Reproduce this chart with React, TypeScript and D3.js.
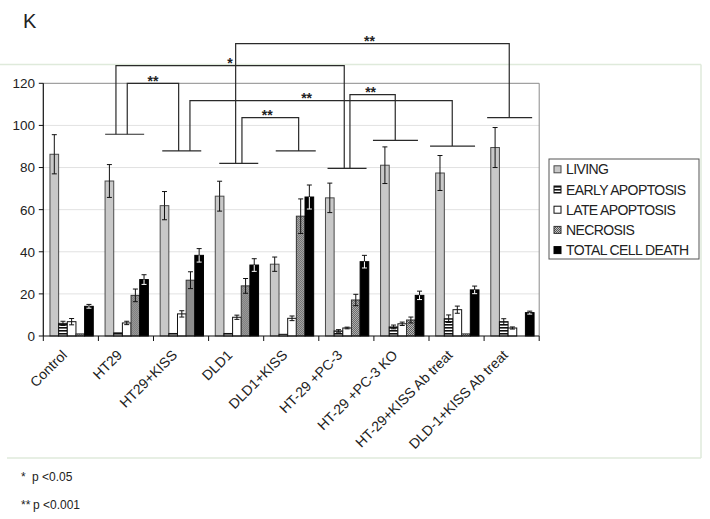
import React from 'react';
import * as d3 from 'd3';

const categories = ['Control', 'HT29', 'HT29+KISS', 'DLD1', 'DLD1+KISS', 'HT-29 +PC-3', 'HT-29 +PC-3 KO', 'HT-29+KISS Ab treat', 'DLD-1+KISS Ab treat'];
const seriesNames = ['LIVING', 'EARLY APOPTOSIS', 'LATE APOPTOSIS', 'NECROSIS', 'TOTAL CELL DEATH'];
const living = [86.3, 73.6, 61.9, 66.4, 34.1, 65.6, 81.1, 77.4, 89.5];
const livingErr = [9.3, 7.8, 6.7, 7.1, 3.4, 7.0, 8.7, 8.3, 9.5];
const early = [6.0, 1.5, 1.2, 1.2, 0.8, 2.4, 4.3, 8.2, 6.8];
const earlyErr = [1.0, 0, 0, 0, 0, 0.6, 0.9, 1.8, 1.4];
const late = [6.8, 6.2, 10.5, 8.9, 8.4, 3.8, 5.8, 12.5, 3.8];
const lateErr = [1.5, 0.8, 1.5, 1.0, 1.1, 0.4, 0.8, 1.7, 0.5];
const necrosis = [1.0, 19.3, 26.5, 23.8, 56.9, 17.1, 7.6, 1.0, 0];
const necrosisErr = [0, 3.0, 4.0, 3.5, 8.2, 2.7, 1.4, 0, 0];
const total = [14.1, 26.8, 38.3, 33.7, 66.0, 35.3, 19.3, 21.9, 11.1];
const totalErr = [0.9, 2.3, 3.2, 3.0, 5.7, 3.0, 2.0, 1.8, 0.7];
const yTicks = [0, 20, 40, 60, 80, 100, 120];

// significance annotations (levels in data units)
const feet = [
  { group: 'HT29', level: 95.8, dx: -1.3, w: 39 },
  { group: 'HT29+KISS', level: 87.9, dx: 0.7, w: 39 },
  { group: 'DLD1', level: 82.0, dx: 2.6, w: 39 },
  { group: 'DLD1+KISS', level: 87.9, dx: 4.5, w: 40 },
  { group: 'HT-29 +PC-3', level: 79.6, dx: 0.7, w: 39 },
  { group: 'HT-29 +PC-3 KO', level: 92.9, dx: -6, w: 45 },
  { group: 'HT-29+KISS Ab treat', level: 90.2, dx: -4, w: 45 },
  { group: 'DLD-1+KISS Ab treat', level: 103.7, dx: -2, w: 45 },
];
const brackets = [
  { a: 'HT29', adx: -10, b: 'HT-29 +PC-3', bdx: -2.1, top: 128.4, label: '*', ldx: 0 },
  { a: 'HT29', adx: 1.3, b: 'HT29+KISS', bdx: -2.4, top: 120, label: '**', ldx: 0 },
  { a: 'HT29+KISS', adx: 8.9, b: 'HT-29+KISS Ab treat', bdx: -4.3, top: 111.8, label: '**', ldx: -14.5 },
  { a: 'DLD1', adx: 5.8, b: 'DLD1+KISS', bdx: 7.4, top: 103.7, label: '**', ldx: -3 },
  { a: 'DLD1', adx: -0.5, b: 'DLD-1+KISS Ab treat', bdx: -2.4, top: 138.8, label: '**', ldx: -3 },
  { a: 'HT-29 +PC-3', adx: 3.6, b: 'HT-29 +PC-3 KO', bdx: -6.2, top: 114.6, label: '**', ldx: -2 },
];

const values = [living, early, late, necrosis, total];
const errors = [livingErr, earlyErr, lateErr, necrosisErr, totalErr];
const fills = ['#c8c8c8', 'url(#stripes)', '#ffffff', 'url(#checker)', '#000000'];
const strokes = ['#4a4a4a', '#111', '#111', '#333', '#000'];

export default function App() {
  const W = 710, H = 519;
  const left = 43.3, right = 539.2, top = 83.3, bottom = 336;
  const x = d3.scaleBand<string>().domain(categories).range([left, right]).padding(0);
  const bw = x.bandwidth();
  const xi = d3.scaleBand<string>().domain(seriesNames).range([bw * 0.121, bw * 0.907]).padding(0);
  const y = d3.scaleLinear().domain([0, 120]).range([bottom, top]);
  const center = (g: string) => (x(g) as number) + bw / 2;
  const font = 'Liberation Sans, Arial, sans-serif';
  const br = '#2a2a2a';

  return (
    <svg width={W} height={H} style={{ position: 'absolute', left: 0, top: 0, background: '#fff' }} fontFamily={font}>
      <defs>
        <pattern id="stripes" width="4" height="3" patternUnits="userSpaceOnUse">
          <rect width="4" height="3" fill="#fff" />
          <rect width="4" height="1.6" fill="#111" />
        </pattern>
        <pattern id="checker" width="2" height="2" patternUnits="userSpaceOnUse">
          <rect width="2" height="2" fill="#c4c4c4" />
          <rect width="1" height="1" fill="#555" />
          <rect x="1" y="1" width="1" height="1" fill="#555" />
        </pattern>
      </defs>
      <rect width={W} height={H} fill="#fff" />
      {/* outer frame */}
      <line x1={0} x2={701} y1={64.5} y2={64.5} stroke="#dfeadb" strokeWidth={1.5} />
      <line x1={701} x2={701} y1={64.5} y2={458} stroke="#dfeadb" strokeWidth={1.5} />
      <line x1={7} x2={701} y1={458} y2={458} stroke="#dfeadb" strokeWidth={1.5} />

      <text x={23} y={28} fontSize={20} fill="#222">K</text>

      {/* grid */}
      {yTicks.filter(t => t > 0 && t < 120).map(t => (
        <line key={t} x1={left} x2={right} y1={y(t)} y2={y(t)} stroke="#e2e2e2" strokeWidth={1} />
      ))}
      <line x1={left} x2={right} y1={y(120)} y2={y(120)} stroke="#8a8a8a" strokeWidth={1} />
      <line x1={right} x2={right} y1={y(120)} y2={y(0)} stroke="#8a8a8a" strokeWidth={1} />

      {/* bars */}
      {categories.map((c, ci) => (
        <g key={c} transform={`translate(${x(c)},0)`}>
          {seriesNames.map((s, si) => {
            const v = values[si][ci];
            if (v <= 0) return null;
            const bx = xi(s) as number;
            return (
              <rect key={s} x={bx} y={y(v)} width={xi.bandwidth()} height={y(0) - y(v)}
                fill={fills[si]} stroke={strokes[si]} strokeWidth={1} />
            );
          })}
          {seriesNames.map((s, si) => {
            const v = values[si][ci];
            const e = errors[si][ci];
            if (!e) return null;
            const cx = (xi(s) as number) + xi.bandwidth() / 2;
            const col = si === 4 ? '#fff' : '#111';
            return (
              <g key={'e' + s} stroke="#111" strokeWidth={1}>
                <line x1={cx} x2={cx} y1={y(v + e)} y2={y(v)} stroke="#111" />
                <line x1={cx} x2={cx} y1={y(v)} y2={y(Math.max(0, v - e))} stroke={col} />
                <line x1={cx - 2.5} x2={cx + 2.5} y1={y(v + e)} y2={y(v + e)} stroke="#111" />
                <line x1={cx - 2.5} x2={cx + 2.5} y1={y(Math.max(0, v - e))} y2={y(Math.max(0, v - e))} stroke={col} />
              </g>
            );
          })}
        </g>
      ))}

      {/* axes */}
      <line x1={left} x2={left} y1={y(120)} y2={y(0)} stroke="#111" strokeWidth={1.2} />
      <line x1={left} x2={right} y1={y(0)} y2={y(0)} stroke="#111" strokeWidth={1.2} />
      {yTicks.map(t => (
        <g key={t}>
          <line x1={left - 4.5} x2={left} y1={y(t)} y2={y(t)} stroke="#111" strokeWidth={1} />
          <text x={35} y={y(t)} dy="0.36em" textAnchor="end" fontSize={13.5} fill="#222">{t}</text>
        </g>
      ))}
      {d3.range(categories.length + 1).map(i => {
        const xx = left + i * bw;
        return <line key={i} x1={xx} x2={xx} y1={bottom} y2={bottom + 5} stroke="#111" strokeWidth={1} />;
      })}
      {categories.map(c => (
        <text key={c} transform={`translate(${center(c) - 3},${bottom + 20}) rotate(-45)`} textAnchor="end"
          fontSize={14} fill="#222">{c}</text>
      ))}

      {/* significance brackets */}
      {feet.map(f => {
        const cx = center(f.group) + f.dx;
        return <line key={f.group} x1={cx - f.w / 2} x2={cx + f.w / 2} y1={y(f.level)} y2={y(f.level)} stroke={br} strokeWidth={1.2} />;
      })}
      {brackets.map((b, i) => {
        const xa = center(b.a) + b.adx;
        const xb = center(b.b) + b.bdx;
        const fa = feet.find(f => f.group === b.a)!;
        const fb = feet.find(f => f.group === b.b)!;
        const yt = y(b.top);
        return (
          <g key={i}>
            <path d={`M${xa},${y(fa.level)}V${yt}H${xb}V${y(fb.level)}`} fill="none" stroke={br} strokeWidth={1.2} />
            <text x={(xa + xb) / 2 + b.ldx} y={yt + 2.5} textAnchor="middle" fontSize={14} fontWeight="bold" fill="#222">{b.label}</text>
          </g>
        );
      })}

      {/* legend */}
      <rect x={549} y={159} width={150} height={100} fill="#fff" stroke="#555" strokeWidth={1} />
      {seriesNames.map((s, si) => {
        const cy = 169.3 + si * 20.2;
        return (
          <g key={s}>
            <rect x={554} y={cy - 3.5} width={7} height={7} fill={si === 1 ? 'url(#stripes)' : fills[si]} stroke={strokes[si]} strokeWidth={1} />
            <text x={566} y={cy + 5} fontSize={14} letterSpacing={-0.6} fill="#222">{s}</text>
          </g>
        );
      })}

      {/* footnotes */}
      <text x={21} y={481} fontSize={12} fill="#222">*</text>
      <text x={32} y={481} fontSize={12} fill="#222">p &lt;0.05</text>
      <text x={21} y={509} fontSize={12} fill="#222">**</text>
      <text x={33} y={509} fontSize={12} fill="#222">p &lt;0.001</text>
    </svg>
  );
}
